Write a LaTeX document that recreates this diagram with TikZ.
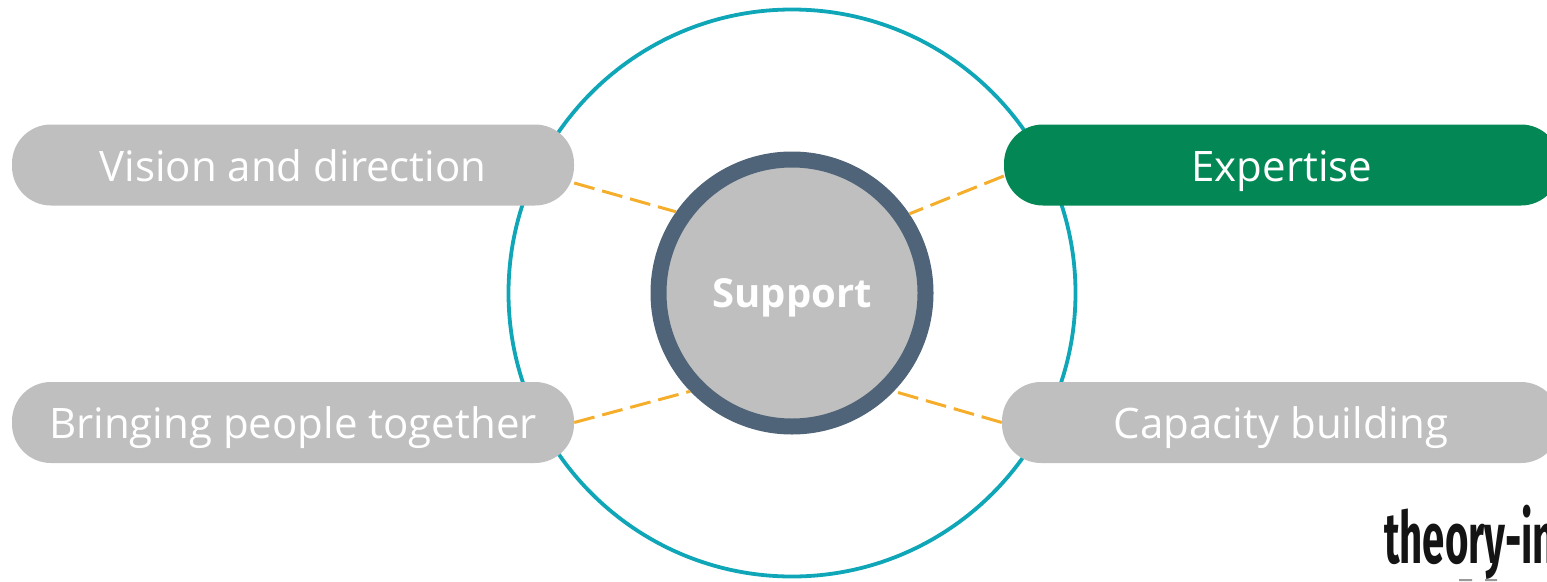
\documentclass[tikz,border=0pt]{standalone}
\usepackage{fontspec}
\setmainfont{Open Sans}
\newfontfamily\logofont{Fira Sans}
\definecolor{pillgrey}{HTML}{BFBFBF}
\definecolor{pillgreen}{HTML}{038855}
\definecolor{ringteal}{HTML}{0FA6B7}
\definecolor{hubslate}{HTML}{4F6479}
\definecolor{dashorange}{HTML}{F5AE2B}
\tikzset{
  pill/.style={rectangle,rounded corners=39pt,minimum height=81pt,inner sep=0pt,fill=pillgrey,text=white,text height=32pt,text depth=0pt,font=\fontsize{42}{48}\selectfont},
  link/.style={draw=dashorange,line width=3pt,dash pattern=on 21pt off 8pt},
}
\begin{document}
\begin{tikzpicture}[x=1pt,y=-1pt]
\useasboundingbox (0,0) rectangle (1547,581);
\clip (0,0) rectangle (1547,581);
\node[circle,draw=ringteal,line width=3.8pt,minimum size=567pt,inner sep=0pt] (ring) at (792,293) {};
\node[pill,minimum width=562pt] (vision) at (293,165) {Vision and direction};
\node[pill,minimum width=562pt] (bring) at (293,422.5) {Bringing people together};
\node[pill,minimum width=556pt,fill=pillgreen] (expert) at (1282,165) {Expertise};
\node[pill,minimum width=558pt] (capacity) at (1281,422.5) {Capacity building};
\node[circle,fill=pillgrey,draw=hubslate,line width=16pt,minimum size=267pt,inner sep=0pt,text=white,text height=28pt,text depth=0pt,font=\fontsize{40}{46}\selectfont\bfseries] (hub) at (792,293) {Support};
\draw[link] ([yshift=-18pt]vision.east) -- (hub.145);
\draw[link] ([yshift=-11pt]expert.west) -- (hub.34);
\draw[link] (bring.east) -- (hub.224);
\draw[link] (capacity.west) -- (hub.-44);
\node[anchor=base west,inner sep=0pt,text=black!92] (logo) at (1384,563) {\logofont\bfseries\scalebox{0.67}[1.2]{\fontsize{60}{60}\selectfont theory-in}};
\fill[black!40] (1459,579) rectangle (1472,581) (1485,579) rectangle (1497,581);
\end{tikzpicture}
\end{document}
